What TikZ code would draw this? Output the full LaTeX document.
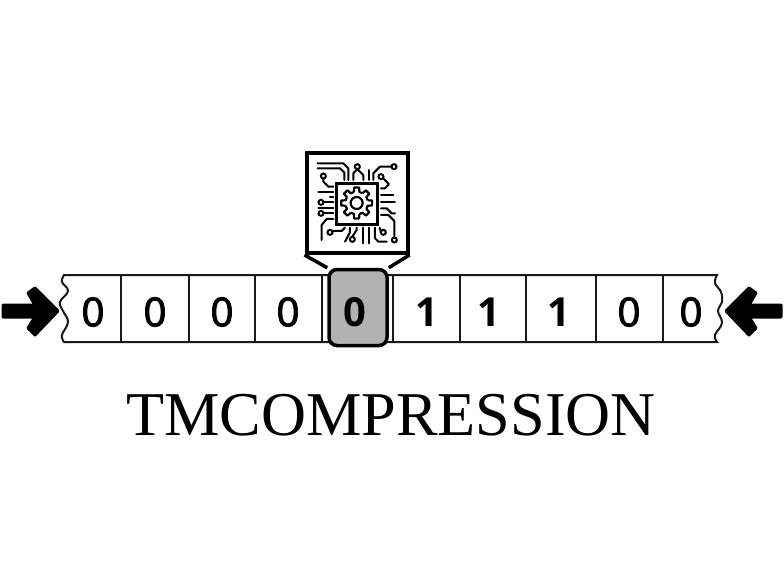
\documentclass[tikz,border=0pt]{standalone}
\usepackage{fontspec}
\setmainfont{Liberation Serif}
\newfontfamily\digitfont[FakeBold=2.5]{Open Sans}
\newfontfamily\bitfont{Open Sans}
\usetikzlibrary{positioning,calc}

\tikzset{
    cell/.style={draw=black!90, line width=2pt, minimum height=67pt, inner sep=0pt, outer sep=0pt},
    digit/.style={font=\digitfont\fontsize{40}{40}\selectfont, inner sep=0pt, outer sep=0pt},
    bit/.style={font=\bitfont\bfseries\fontsize{40}{40}\selectfont, inner sep=0pt, outer sep=0pt},
    trace/.style={line width=2pt, line join=round, line cap=round},
    bigarrow/.style={fill=black, draw=black, line width=3pt, line join=round}
}

\begin{document}
\begin{tikzpicture}[x=1pt, y=-1pt]
    \useasboundingbox (0,0) rectangle (784,588);

    % tape
    \draw[line width=2pt, black!90, fill=white]
        plot[smooth, tension=0.7] coordinates {(64,275) (62,282) (68,291) (60,302) (63,311) (68,322) (62,335) (64,342)}
        -- plot[smooth, tension=0.7] coordinates {(717,342) (715,335) (722,323) (718,311) (722,302) (721,292) (715,283) (717,275)}
        -- cycle;

    % cells
    \node[cell, minimum width=68pt] (c2) at (155,308.5) {};
    \node[cell, minimum width=66pt] (c3) at (222,308.5) {};
    \node[cell, minimum width=67pt] (c4) at (288.5,308.5) {};
    \node[cell, minimum width=71pt] (c5) at (357.5,308.5) {};
    \node[cell, minimum width=67pt] (c6) at (426.5,308.5) {};
    \node[cell, minimum width=66pt] (c7) at (493,308.5) {};
    \node[cell, minimum width=70pt] (c8) at (561,308.5) {};
    \node[cell, minimum width=67pt] (c9) at (629.5,308.5) {};

    % head
    \node[draw=black, fill=black!30, line width=3.5pt, rounded corners=8pt, minimum width=58pt,
        minimum height=76pt, inner sep=0pt] (head) at (358,307.5) {};
    \node[draw=black, fill=white, line width=4pt, minimum width=101pt, minimum height=100pt,
        inner sep=0pt] (box) at (357,203) {};
    \draw[line width=3.5pt, line join=round] (box.south west) -- (head.north west);
    \draw[line width=3.5pt, line join=round] (box.south east) -- (head.north east);

    % digits
    \node[digit] (d1) at (93,312) {0};
    \node[digit] (d2) at (155,312) {0};
    \node[digit] (d3) at (222,312) {0};
    \node[digit] (d4) at (288,312) {0};
    \node[bit]   (d5) at (355,312) {0};
    \node[bit]   (d6) at (427,312) {1};
    \node[bit]   (d7) at (489,312) {1};
    \node[bit]   (d8) at (559,312) {1};
    \node[digit] (d9) at (629,312) {0};
    \node[digit] (d10) at (691,312) {0};

    % arrows
    \draw[bigarrow] (3,305) -- (35,305) -- (28,293) -- (35,288) -- (58,311) -- (35,335)
        -- (28,328) -- (35,317) -- (3,317) -- cycle;
    \draw[bigarrow] (781,305) -- (749,305) -- (756,293) -- (749,288) -- (726,311) -- (749,335)
        -- (756,328) -- (749,317) -- (781,317) -- cycle;

    % chip
    \begin{scope}[shift={(295,145)}, x=0.3333pt, y=-0.3333pt]
        \draw[line width=2.8pt] (125,115) rectangle (248,238);
        \begin{scope}[shift={(185,174)}]
            \foreach \a in {0,45,...,315}
                \draw[line width=2.2pt, line join=round] (\a-14:34) -- (\a-9:47) -- (\a+9:47)
                    -- (\a+14:34) -- (\a+31:34);
            \draw[line width=2.2pt] (0,0) circle [radius=6pt];
        \end{scope}
        % top
        \draw[trace] (68,55) -- (145,55) -- (160,70) -- (160,105);
        \draw[trace] (68,70) -- (135,70) -- (148,83) -- (148,105);
        \draw[trace] (187,72) -- (175,85) -- (175,105);
        \draw[trace] (187,72) -- (205,90) -- (205,105);
        \draw[trace] (222,75) -- (222,105);
        \draw[trace] (290,65) -- (255,65) -- (235,85) -- (235,105);
        \draw[trace] (85,100) -- (85,110) -- (100,125) -- (115,125);
        \draw[trace] (265,100) -- (282,118) -- (270,130) -- (258,130);
        % left
        \draw[trace] (70,140) -- (115,140);
        \draw[trace] (105,155) -- (115,155);
        \draw[trace] (85,172) -- (115,172);
        \draw[trace] (70,188) -- (115,188);
        \draw[trace] (85,205) -- (115,205);
        \draw[trace] (115,222) -- (95,222) -- (80,240) -- (80,285);
        \draw[trace] (112,258) -- (140,258) -- (150,248);
        % bottom
        \draw[trace] (150,290) -- (165,262) -- (165,248);
        \draw[trace] (172,275) -- (185,255) -- (185,248);
        \draw[trace] (205,248) -- (205,295);
        \draw[trace] (222,248) -- (222,295);
        \draw[trace] (240,248) -- (240,280) -- (250,290) -- (275,290);
        \draw[trace] (258,262) -- (254,248);
        % right
        \draw[trace] (258,150) -- (295,150);
        \draw[trace] (258,170) -- (300,170);
        \draw[trace] (258,190) -- (275,190) -- (290,205) -- (300,205);
        \draw[trace] (258,210) -- (280,210) -- (298,228) -- (298,278);
        % terminals
        \foreach \p in {(85,93),(187,65),(297,65),(258,95),(78,172),(78,205),(105,262),(172,283),(265,262),(298,285)}
            \draw[line width=2pt] \p circle [radius=2.5pt];
    \end{scope}

    % title
    \node[font=\fontsize{62.3}{62}\selectfont, inner sep=0pt] (title) at (391,415) {TMCOMPRESSION};
\end{tikzpicture}
\end{document}
